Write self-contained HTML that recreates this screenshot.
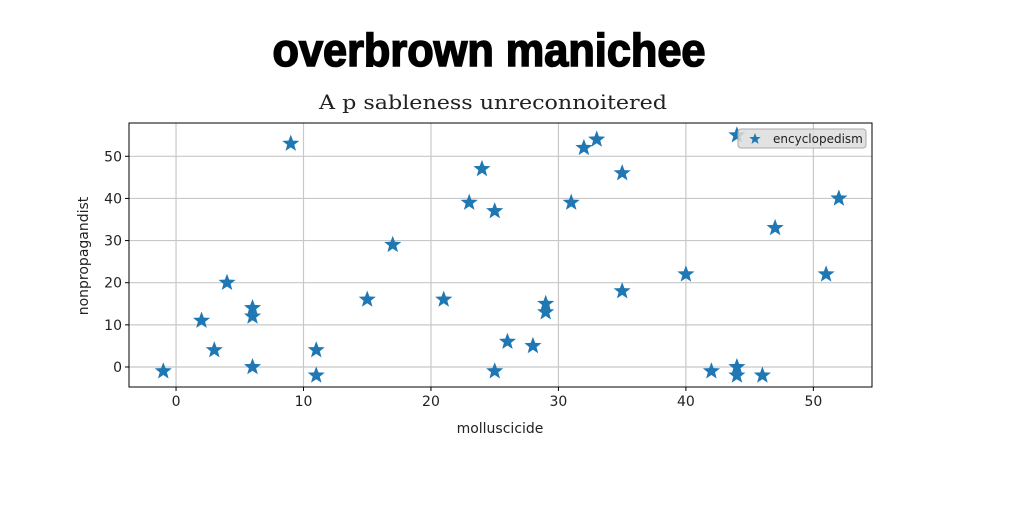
<!DOCTYPE html>
<html><head><meta charset="utf-8"><style>
body{margin:0;background:#fff;}
svg{display:block;}
</style></head><body>
<svg id="chart" width="1024" height="512" xmlns="http://www.w3.org/2000/svg">
<text x="489" y="66" text-anchor="middle" font-family="Liberation Sans Narrow, Liberation Sans, sans-serif" font-weight="bold" font-size="46" textLength="433" lengthAdjust="spacingAndGlyphs" stroke="#000" stroke-width="1.6">overbrown manichee</text>
<text x="493" y="109" text-anchor="middle" font-family="DejaVu Serif, Liberation Serif, serif" font-size="20" textLength="348" lengthAdjust="spacingAndGlyphs" fill="#222">A p sableness unreconnoitered</text>
<g id="grid"></g>
<g id="axes"></g>
<g id="marks"></g>
<rect x="129" y="123" width="743" height="264" fill="none" stroke="#000" stroke-width="1"/>
<text x="500" y="433" text-anchor="middle" font-family="DejaVu Sans, sans-serif" font-size="14" fill="#222">molluscicide</text>
<text transform="translate(88,256) rotate(-90)" text-anchor="middle" font-family="DejaVu Sans, sans-serif" font-size="14" fill="#222">nonpropagandist</text>
<g>
<rect x="738" y="129" width="128" height="19" rx="3" fill="#ddd" fill-opacity="0.85" stroke="#aaa"/>
<path id="legstar" fill="#1f77b4"/>
<text x="773" y="143" font-family="DejaVu Sans, sans-serif" font-size="12" fill="#222">encyclopedism</text>
</g>
</svg>
<script>
const xs = [-1,2,3,4,6,6,6,9,11,11,15,17,21,23,24,25,25,26,28,29,29,31,32,33,35,35,40,42,44,44,44,46,47,51,52];
const ys = [-1,11,4,20,14,12,0,53,4,-2,16,29,16,39,47,37,-1,6,5,15,13,39,52,54,46,18,22,-1,55,0,-2,-2,33,22,40];
const xTicks = [0,10,20,30,40,50];
const yTicks = [0,10,20,30,40,50];
const L=129,R=872,T=123,B=387;
const xMin=-3.69,xMax=54.6,yMin=-4.75,yMax=57.9;
const sx=v=>L+(v-xMin)/(xMax-xMin)*(R-L);
const sy=v=>B-(v-yMin)/(yMax-yMin)*(B-T);
const NS='http://www.w3.org/2000/svg';
function star(cx,cy,r){let d='';for(let i=0;i<10;i++){const a=-Math.PI/2+i*Math.PI/5;const rr=i%2?r*0.42:r;d+=(i?'L':'M')+(cx+rr*Math.cos(a)).toFixed(1)+','+(cy+rr*Math.sin(a)).toFixed(1);}return d+'Z';}
const grid=document.getElementById('grid'),axes=document.getElementById('axes'),marks=document.getElementById('marks');
xTicks.forEach(t=>{
 const x=sx(t);
 const g=document.createElementNS(NS,'line');
 g.setAttribute('x1',x);g.setAttribute('x2',x);g.setAttribute('y1',T);g.setAttribute('y2',B);
 g.setAttribute('stroke','#c8c8c8');g.setAttribute('stroke-width','1.2');
 
 
 grid.appendChild(g);
 const tk=document.createElementNS(NS,'line');
 tk.setAttribute('x1',x);tk.setAttribute('x2',x);tk.setAttribute('y1',B);tk.setAttribute('y2',B+4);tk.setAttribute('stroke','#000');
 
 
 axes.appendChild(tk);
 const tx=document.createElementNS(NS,'text');
 tx.setAttribute('x',x);tx.setAttribute('y',B+19);tx.setAttribute('text-anchor','middle');
 tx.setAttribute('font-family','DejaVu Sans, sans-serif');tx.setAttribute('font-size','14');tx.setAttribute('fill','#222');
 tx.textContent=t;
 
 
 axes.appendChild(tx);
});
yTicks.forEach(t=>{
 const y=sy(t);
 const g=document.createElementNS(NS,'line');
 g.setAttribute('x1',L);g.setAttribute('x2',R);g.setAttribute('y1',y);g.setAttribute('y2',y);
 g.setAttribute('stroke','#c8c8c8');g.setAttribute('stroke-width','1.2');
 
 
 grid.appendChild(g);
 const tk=document.createElementNS(NS,'line');
 tk.setAttribute('x1',L-4);tk.setAttribute('x2',L);tk.setAttribute('y1',y);tk.setAttribute('y2',y);tk.setAttribute('stroke','#000');
 
 
 axes.appendChild(tk);
 const tx=document.createElementNS(NS,'text');
 tx.setAttribute('x',L-7);tx.setAttribute('y',y+5);tx.setAttribute('text-anchor','end');
 tx.setAttribute('font-family','DejaVu Sans, sans-serif');tx.setAttribute('font-size','14');tx.setAttribute('fill','#222');
 tx.textContent=t;
 
 
 axes.appendChild(tx);
});
xs.forEach((v,i)=>{
 const p=document.createElementNS(NS,'path');
 p.setAttribute('d',star(sx(v),sy(ys[i]),9));
 p.setAttribute('fill','#1f77b4');
 
 
 marks.appendChild(p);
});
document.getElementById('legstar').setAttribute('d',star(755,139,6));
</script>
</body></html>
